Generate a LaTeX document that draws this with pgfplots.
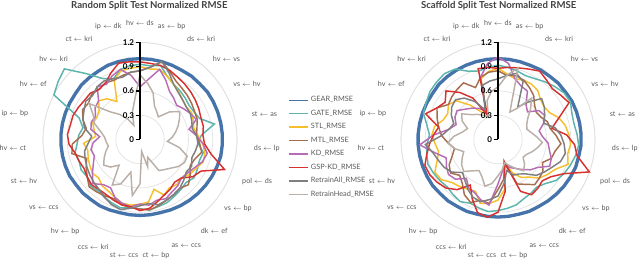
\documentclass[border=0pt]{standalone}
\usepackage{pgfplots}
\pgfplotsset{compat=1.18}
\usepackage{pgfplotstable}
\usepgfplotslibrary{polar}
\usepackage{fontspec}
\setmainfont{Lato}
\definecolor{cGEAR}{HTML}{4573AA}
\definecolor{cGATE}{HTML}{5CB6AE}
\definecolor{cSTL}{HTML}{F5C02C}
\definecolor{cMTL}{HTML}{A66E4E}
\definecolor{cKD}{HTML}{B76DB6}
\definecolor{cGSP}{HTML}{D6312F}
\definecolor{cRA}{HTML}{7F7F7F}
\definecolor{cRH}{HTML}{BAB0A8}
\definecolor{txt}{HTML}{595959}

\pgfplotstableread{
i G A S M K P R H
0 1.00 0.93 0.90 0.85 0.65 0.96 0.85 0.80
1 1.00 0.92 0.88 0.90 0.75 0.95 0.90 0.70
2 1.00 0.95 0.90 1.00 0.90 0.95 1.00 0.60
3 1.00 0.85 0.85 0.92 0.80 0.93 0.90 0.45
4 1.00 0.80 0.80 0.85 0.70 0.90 0.80 0.40
5 1.01 0.78 0.76 0.82 0.66 0.88 0.75 0.36
6 1.01 0.76 0.72 0.80 0.62 0.86 0.72 0.50
7 1.02 0.74 0.70 0.78 0.66 0.84 0.70 0.60
8 1.02 0.75 0.72 0.76 0.70 0.82 0.70 0.55
9 1.02 0.78 0.70 0.75 0.74 0.80 0.68 0.50
10 1.02 0.94 0.68 0.72 0.62 0.80 0.66 0.45
11 1.02 0.76 0.72 0.70 0.70 0.78 0.70 0.40
12 1.02 0.72 0.78 0.74 0.78 0.80 0.72 0.34
13 1.02 0.80 0.82 0.78 0.85 0.90 0.70 0.50
14 1.01 0.78 0.83 0.72 0.82 1.11 0.68 0.62
15 1.00 0.80 0.78 0.70 0.76 0.85 0.72 0.62
16 0.99 0.82 0.75 0.76 0.72 0.80 0.70 0.58
17 0.98 0.78 0.70 0.82 0.70 0.70 0.74 0.52
18 0.97 0.80 0.72 0.78 0.74 0.68 0.78 0.48
19 0.96 0.82 0.70 0.80 0.76 0.72 0.80 0.45
20 0.95 0.85 0.75 0.82 0.80 0.75 0.82 0.24
21 0.94 0.86 0.64 0.85 0.78 0.80 0.84 0.35
22 0.94 0.88 0.78 0.88 0.82 0.86 0.80 0.15
23 0.94 0.86 0.80 0.86 0.80 0.88 0.82 0.55
24 0.94 0.85 0.82 0.85 0.84 0.84 0.86 0.70
25 0.94 0.88 0.82 0.84 0.82 0.84 0.90 0.42
26 0.95 0.86 0.78 0.80 0.78 0.82 0.88 0.60
27 0.96 0.84 0.75 0.82 0.70 0.80 0.84 0.66
28 0.96 0.82 0.74 0.84 0.72 0.80 0.80 0.41
29 0.97 0.84 0.70 0.86 0.80 0.82 0.78 0.50
30 0.97 0.80 0.72 0.80 0.72 0.80 0.76 0.55
31 0.98 0.82 0.70 0.75 0.65 0.78 0.74 0.50
32 0.98 0.80 0.68 0.70 0.60 0.80 0.72 0.45
33 0.98 0.82 0.66 0.86 0.62 0.82 0.70 0.40
34 0.98 0.78 0.70 0.84 0.58 0.88 0.64 0.42
35 0.98 0.76 0.55 0.72 0.50 0.90 0.60 0.44
36 0.98 0.72 0.58 0.68 0.62 0.88 0.70 0.50
37 0.98 0.80 0.62 0.75 0.64 0.88 0.75 0.60
38 0.98 1.20 0.60 0.80 0.62 0.86 0.78 0.65
39 0.98 1.24 0.62 0.78 0.68 0.84 0.82 0.77
40 0.99 1.28 0.70 0.82 0.70 0.84 0.80 0.50
41 0.99 1.05 0.65 0.80 0.84 0.80 0.84 0.40
42 0.99 0.88 0.55 0.82 0.80 0.82 0.85 0.30
43 1.00 0.82 0.80 0.80 0.86 0.90 0.82 0.19
44 1.00 0.90 0.88 0.82 0.90 0.98 0.80 0.35
45 1.00 0.92 0.89 0.84 0.80 0.97 0.84 0.49
46 1.00 0.93 0.90 0.85 0.65 0.96 0.85 0.80
}\randtab

\pgfplotstableread{
i G A S M K P R H
0 1.00 0.92 0.88 0.85 1.02 0.88 0.75 0.65
1 1.00 0.90 0.82 0.80 0.95 0.90 0.80 0.80
2 1.00 0.88 0.78 0.82 0.78 0.92 0.85 0.92
3 1.00 0.86 0.80 0.80 0.72 0.95 0.78 0.37
4 1.01 0.88 0.80 0.75 0.70 0.99 0.47 0.45
5 1.01 0.92 0.78 0.70 0.55 0.95 0.60 0.66
6 1.02 0.96 0.72 0.62 0.50 0.92 0.74 0.55
7 1.02 1.00 0.70 0.58 0.62 0.95 0.70 0.45
8 1.03 1.01 0.72 0.60 0.65 0.99 0.65 0.40
9 1.03 0.97 0.80 0.65 0.60 0.80 0.60 0.38
10 1.03 0.96 0.85 0.66 0.52 0.68 0.72 0.42
11 1.03 0.98 0.88 0.72 0.55 0.85 0.78 0.48
12 1.03 1.00 0.90 0.78 0.62 0.95 0.82 0.55
13 1.02 0.98 0.88 0.72 0.65 1.00 0.85 0.50
14 1.02 0.95 0.92 0.70 0.70 1.20 0.82 0.45
15 1.01 0.92 0.80 0.62 0.72 0.92 0.75 0.40
16 1.00 0.88 0.75 0.68 0.60 0.80 0.70 0.38
17 0.99 0.80 0.70 0.70 0.55 0.75 0.65 0.45
18 0.98 0.76 0.60 0.72 0.48 0.78 0.55 0.50
19 0.97 0.78 0.55 0.65 0.42 0.80 0.50 0.42
20 0.97 0.80 0.45 0.60 0.38 0.70 0.48 0.35
21 0.96 0.84 0.30 0.32 0.32 0.28 0.40 0.30
22 0.96 0.86 0.62 0.50 0.40 0.65 0.55 0.38
23 0.96 0.88 0.75 0.62 0.55 0.90 0.70 0.45
24 0.96 0.90 0.80 0.80 0.82 0.97 0.75 0.55
25 0.96 0.88 0.82 0.78 0.78 0.94 0.80 0.60
26 0.97 0.86 0.70 0.85 0.72 0.80 0.78 0.50
27 0.97 0.90 0.72 0.80 0.70 0.66 0.72 0.45
28 0.98 0.88 0.75 0.70 0.62 0.80 0.65 0.50
29 0.98 0.86 0.78 0.65 0.72 0.88 0.60 0.58
30 0.99 0.88 0.86 0.72 0.75 0.92 0.70 0.55
31 0.99 0.90 0.88 0.68 0.72 0.95 0.75 0.50
32 0.99 0.92 0.80 0.60 0.68 0.96 0.78 0.45
33 0.99 0.90 0.75 0.55 0.80 0.90 0.82 0.55
34 0.99 0.88 0.78 0.62 0.97 0.85 0.90 0.62
35 0.99 0.85 0.82 0.70 0.80 0.80 0.70 0.55
36 0.99 0.90 0.80 0.75 0.62 0.75 0.62 0.45
37 0.99 0.98 0.72 0.80 0.55 0.95 0.58 0.40
38 0.99 1.00 0.70 0.85 0.60 0.85 0.65 0.50
39 0.99 1.03 0.75 0.75 0.62 0.80 0.70 0.55
40 1.00 1.04 0.70 0.78 0.55 0.88 0.72 0.45
41 1.00 1.05 0.55 0.80 0.50 0.75 0.66 0.40
42 1.00 1.02 0.40 0.82 0.45 0.60 0.55 0.35
43 1.00 0.92 0.35 0.70 0.38 0.33 0.40 0.30
44 1.00 0.88 0.78 0.80 0.80 0.91 0.70 0.50
45 1.00 0.90 0.85 0.84 0.95 0.90 0.73 0.60
46 1.00 0.92 0.88 0.85 1.02 0.88 0.75 0.65
}\scaftab

\newcommand\lab[3]{\node[anchor=#2, inner sep=0pt, text=txt, font=\fontsize{5.4}{7}\selectfont] at (axis cs:#1,1.41) {#3};}
\newcommand\ar{ $\leftarrow$ }
\newcommand\alllabels{%
\lab{90}{270}{hv\ar ds}
\lab{74.348}{254.348}{as\ar bp}
\lab{58.696}{238.696}{ds\ar kri}
\lab{43.043}{223.043}{hv\ar vs}
\lab{27.391}{207.391}{vs\ar hv}
\lab{11.739}{191.739}{st\ar as}
\lab{-3.913}{176.087}{ds\ar lp}
\lab{-19.565}{160.435}{pol\ar ds}
\lab{-35.217}{144.783}{vs\ar bp}
\lab{-50.870}{129.130}{dk\ar ef}
\lab{-66.522}{113.478}{as\ar ccs}
\lab{-82.174}{97.826}{ct\ar bp}
\lab{-97.826}{82.174}{st\ar ccs}
\lab{-113.478}{66.522}{ccs\ar kri}
\lab{-129.130}{50.870}{hv\ar bp}
\lab{-144.783}{35.217}{vs\ar ccs}
\lab{-160.435}{19.565}{st\ar hv}
\lab{-176.087}{3.913}{hv\ar ct}
\lab{-191.739}{348.261}{ip\ar bp}
\lab{-207.391}{332.609}{hv\ar ef}
\lab{-223.043}{316.957}{hv\ar kri}
\lab{-238.696}{301.304}{ct\ar kri}
\lab{-254.348}{285.652}{ip\ar dk}
\draw[line width=0.9pt] (axis cs:90,0) -- (axis cs:90,1.2);
\pgfplotsinvokeforeach{0,0.3,0.6,0.9,1.2}{\draw[line width=0.9pt] (axis cs:90,##1) -- ++(-3pt,0pt) node[left, inner sep=1pt, font=\bfseries\fontsize{6}{7}\selectfont] {##1};}
}

\pgfplotsset{radar/.style={
  scale only axis, width=145.5pt, height=145.5pt, anchor=center,
  xmin=-270, xmax=90, ymin=0, ymax=1.2,
  xtick=\empty, ytick={0.3,0.6,0.9,1.2}, yticklabels={},
  major tick length=0pt,
  ymajorgrids, grid style={black!12, line width=0.5pt},
  axis line style={black!12, line width=0.5pt},
  clip=false,
}}
\newcommand\series[1]{%
\addplot[cGEAR, line width=2.5pt, mark=none] table[x expr={90-\thisrow{i}*360/46}, y=G] {#1};
\addplot[cGATE, line width=1.1pt, mark=none] table[x expr={90-\thisrow{i}*360/46}, y=A] {#1};
\addplot[cSTL, line width=1.1pt, mark=none] table[x expr={90-\thisrow{i}*360/46}, y=S] {#1};
\addplot[cMTL, line width=1.1pt, mark=none] table[x expr={90-\thisrow{i}*360/46}, y=M] {#1};
\addplot[cKD, line width=1.1pt, mark=none] table[x expr={90-\thisrow{i}*360/46}, y=K] {#1};
\addplot[cGSP, line width=1.1pt, mark=none] table[x expr={90-\thisrow{i}*360/46}, y=P] {#1};
\addplot[cRA, line width=1.1pt, mark=none] table[x expr={90-\thisrow{i}*360/46}, y=R] {#1};
\addplot[cRH, line width=1.1pt, mark=none] table[x expr={90-\thisrow{i}*360/46}, y=H] {#1};
}

\begin{document}
\begin{tikzpicture}
\path[use as bounding box] (0,0) rectangle (480pt,198pt);
\begin{polaraxis}[radar, at={(105pt,93.4pt)},
  legend style={at={(axis description cs:1.263,0.459)}, anchor=west, draw=none, fill=none,
    inner sep=0pt, font=\fontsize{5.5}{6}\selectfont, text=txt, row sep=0.6pt},
  legend cell align=left,
  legend image code/.code={\draw[line width=1pt,#1] (0pt,0pt) -- (14pt,0pt);},
]
\series{\randtab}
\legend{GEAR\_RMSE,GATE\_RMSE,STL\_RMSE,MTL\_RMSE,KD\_RMSE,GSP-KD\_RMSE,RetrainAll\_RMSE,RetrainHead\_RMSE}
\alllabels
\end{polaraxis}
\begin{polaraxis}[radar, at={(373.5pt,93.4pt)}]
\series{\scaftab}
\alllabels
\end{polaraxis}
\node[font=\bfseries\fontsize{7.2}{9}\selectfont, text=black!75] at (112pt,193.5pt) {Random Split Test Normalized RMSE};
\node[font=\bfseries\fontsize{7.2}{9}\selectfont, text=black!75] at (374pt,193.5pt) {Scaffold Split Test Normalized RMSE};
\end{tikzpicture}
\end{document}
